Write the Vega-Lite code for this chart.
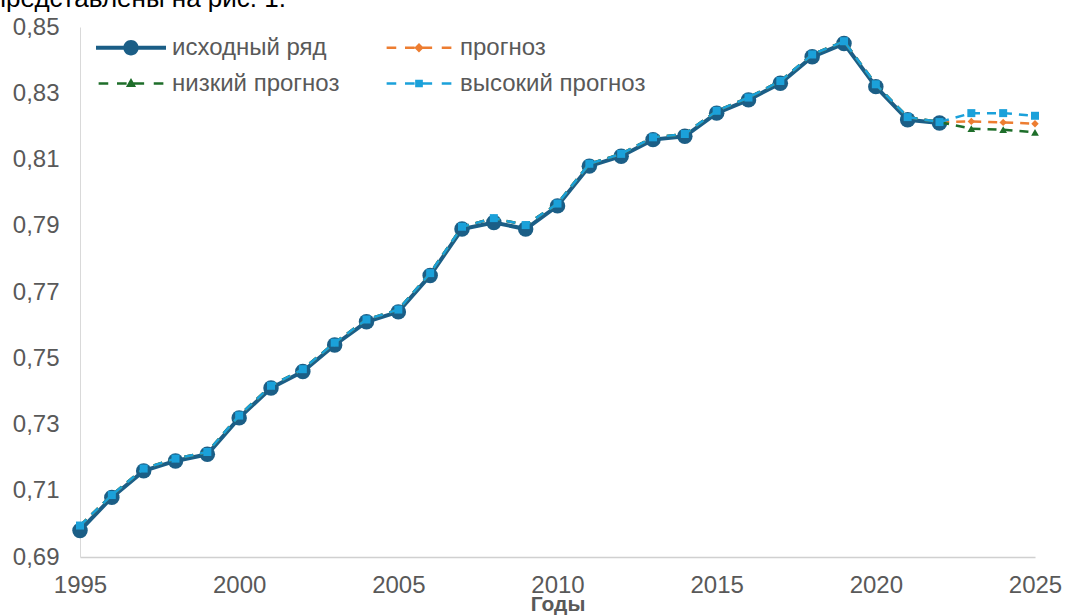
{
  "$schema": "https://vega.github.io/schema/vega-lite/v6.json",
  "width": 955,
  "height": 530,
  "autosize": {"type": "none"},
  "padding": {"left": 80, "top": 27, "right": 31, "bottom": 58},
  "background": "white",
  "title": {
    "text": "представлены на рис. 1.",
    "anchor": "start",
    "frame": "group",
    "dx": -88,
    "dy": 18,
    "offset": 0,
    "baseline": "alphabetic",
    "fontSize": 26,
    "fontWeight": "normal",
    "color": "#000000",
    "font": "Liberation Sans"
  },
  "config": {
    "view": {"stroke": null},
    "font": "Liberation Sans"
  },
  "datasets": {
    "rows": [
      {"series": "исходный ряд", "year": 1995, "value": 0.698},
      {"series": "исходный ряд", "year": 1996, "value": 0.708},
      {"series": "исходный ряд", "year": 1997, "value": 0.716},
      {"series": "исходный ряд", "year": 1998, "value": 0.719},
      {"series": "исходный ряд", "year": 1999, "value": 0.721},
      {"series": "исходный ряд", "year": 2000, "value": 0.732},
      {"series": "исходный ряд", "year": 2001, "value": 0.741},
      {"series": "исходный ряд", "year": 2002, "value": 0.746},
      {"series": "исходный ряд", "year": 2003, "value": 0.754},
      {"series": "исходный ряд", "year": 2004, "value": 0.761},
      {"series": "исходный ряд", "year": 2005, "value": 0.764},
      {"series": "исходный ряд", "year": 2006, "value": 0.775},
      {"series": "исходный ряд", "year": 2007, "value": 0.789},
      {"series": "исходный ряд", "year": 2008, "value": 0.791},
      {"series": "исходный ряд", "year": 2009, "value": 0.789},
      {"series": "исходный ряд", "year": 2010, "value": 0.796},
      {"series": "исходный ряд", "year": 2011, "value": 0.808},
      {"series": "исходный ряд", "year": 2012, "value": 0.811},
      {"series": "исходный ряд", "year": 2013, "value": 0.816},
      {"series": "исходный ряд", "year": 2014, "value": 0.817},
      {"series": "исходный ряд", "year": 2015, "value": 0.824},
      {"series": "исходный ряд", "year": 2016, "value": 0.828},
      {"series": "исходный ряд", "year": 2017, "value": 0.833},
      {"series": "исходный ряд", "year": 2018, "value": 0.841},
      {"series": "исходный ряд", "year": 2019, "value": 0.845},
      {"series": "исходный ряд", "year": 2020, "value": 0.832},
      {"series": "исходный ряд", "year": 2021, "value": 0.822},
      {"series": "исходный ряд", "year": 2022, "value": 0.821},

      {"series": "прогноз", "year": 1995, "value": 0.6995},
      {"series": "прогноз", "year": 1996, "value": 0.7087},
      {"series": "прогноз", "year": 1997, "value": 0.7167},
      {"series": "прогноз", "year": 1998, "value": 0.7197},
      {"series": "прогноз", "year": 1999, "value": 0.7217},
      {"series": "прогноз", "year": 2000, "value": 0.7327},
      {"series": "прогноз", "year": 2001, "value": 0.7417},
      {"series": "прогноз", "year": 2002, "value": 0.7467},
      {"series": "прогноз", "year": 2003, "value": 0.7547},
      {"series": "прогноз", "year": 2004, "value": 0.7617},
      {"series": "прогноз", "year": 2005, "value": 0.7647},
      {"series": "прогноз", "year": 2006, "value": 0.7757},
      {"series": "прогноз", "year": 2007, "value": 0.7897},
      {"series": "прогноз", "year": 2008, "value": 0.7923},
      {"series": "прогноз", "year": 2009, "value": 0.7902},
      {"series": "прогноз", "year": 2010, "value": 0.7967},
      {"series": "прогноз", "year": 2011, "value": 0.8087},
      {"series": "прогноз", "year": 2012, "value": 0.8117},
      {"series": "прогноз", "year": 2013, "value": 0.8167},
      {"series": "прогноз", "year": 2014, "value": 0.8177},
      {"series": "прогноз", "year": 2015, "value": 0.8247},
      {"series": "прогноз", "year": 2016, "value": 0.8287},
      {"series": "прогноз", "year": 2017, "value": 0.8337},
      {"series": "прогноз", "year": 2018, "value": 0.8417},
      {"series": "прогноз", "year": 2019, "value": 0.8457},
      {"series": "прогноз", "year": 2020, "value": 0.8327},
      {"series": "прогноз", "year": 2021, "value": 0.8228},
      {"series": "прогноз", "year": 2022, "value": 0.8213},
      {"series": "прогноз", "year": 2023, "value": 0.8215},
      {"series": "прогноз", "year": 2024, "value": 0.8212},
      {"series": "прогноз", "year": 2025, "value": 0.8208},

      {"series": "низкий прогноз", "year": 1995, "value": 0.6995},
      {"series": "низкий прогноз", "year": 1996, "value": 0.7087},
      {"series": "низкий прогноз", "year": 1997, "value": 0.7167},
      {"series": "низкий прогноз", "year": 1998, "value": 0.7197},
      {"series": "низкий прогноз", "year": 1999, "value": 0.7217},
      {"series": "низкий прогноз", "year": 2000, "value": 0.7327},
      {"series": "низкий прогноз", "year": 2001, "value": 0.7417},
      {"series": "низкий прогноз", "year": 2002, "value": 0.7467},
      {"series": "низкий прогноз", "year": 2003, "value": 0.7547},
      {"series": "низкий прогноз", "year": 2004, "value": 0.7617},
      {"series": "низкий прогноз", "year": 2005, "value": 0.7647},
      {"series": "низкий прогноз", "year": 2006, "value": 0.7757},
      {"series": "низкий прогноз", "year": 2007, "value": 0.7897},
      {"series": "низкий прогноз", "year": 2008, "value": 0.7923},
      {"series": "низкий прогноз", "year": 2009, "value": 0.7902},
      {"series": "низкий прогноз", "year": 2010, "value": 0.7967},
      {"series": "низкий прогноз", "year": 2011, "value": 0.8087},
      {"series": "низкий прогноз", "year": 2012, "value": 0.8117},
      {"series": "низкий прогноз", "year": 2013, "value": 0.8167},
      {"series": "низкий прогноз", "year": 2014, "value": 0.8177},
      {"series": "низкий прогноз", "year": 2015, "value": 0.8247},
      {"series": "низкий прогноз", "year": 2016, "value": 0.8287},
      {"series": "низкий прогноз", "year": 2017, "value": 0.8337},
      {"series": "низкий прогноз", "year": 2018, "value": 0.8417},
      {"series": "низкий прогноз", "year": 2019, "value": 0.8457},
      {"series": "низкий прогноз", "year": 2020, "value": 0.8327},
      {"series": "низкий прогноз", "year": 2021, "value": 0.8228},
      {"series": "низкий прогноз", "year": 2022, "value": 0.8213},
      {"series": "низкий прогноз", "year": 2023, "value": 0.8193},
      {"series": "низкий прогноз", "year": 2024, "value": 0.819},
      {"series": "низкий прогноз", "year": 2025, "value": 0.8182},

      {"series": "высокий прогноз", "year": 1995, "value": 0.6995},
      {"series": "высокий прогноз", "year": 1996, "value": 0.7087},
      {"series": "высокий прогноз", "year": 1997, "value": 0.7167},
      {"series": "высокий прогноз", "year": 1998, "value": 0.7197},
      {"series": "высокий прогноз", "year": 1999, "value": 0.7217},
      {"series": "высокий прогноз", "year": 2000, "value": 0.7327},
      {"series": "высокий прогноз", "year": 2001, "value": 0.7417},
      {"series": "высокий прогноз", "year": 2002, "value": 0.7467},
      {"series": "высокий прогноз", "year": 2003, "value": 0.7547},
      {"series": "высокий прогноз", "year": 2004, "value": 0.7617},
      {"series": "высокий прогноз", "year": 2005, "value": 0.7647},
      {"series": "высокий прогноз", "year": 2006, "value": 0.7757},
      {"series": "высокий прогноз", "year": 2007, "value": 0.7897},
      {"series": "высокий прогноз", "year": 2008, "value": 0.7923},
      {"series": "высокий прогноз", "year": 2009, "value": 0.7902},
      {"series": "высокий прогноз", "year": 2010, "value": 0.7967},
      {"series": "высокий прогноз", "year": 2011, "value": 0.8087},
      {"series": "высокий прогноз", "year": 2012, "value": 0.8117},
      {"series": "высокий прогноз", "year": 2013, "value": 0.8167},
      {"series": "высокий прогноз", "year": 2014, "value": 0.8177},
      {"series": "высокий прогноз", "year": 2015, "value": 0.8247},
      {"series": "высокий прогноз", "year": 2016, "value": 0.8287},
      {"series": "высокий прогноз", "year": 2017, "value": 0.8337},
      {"series": "высокий прогноз", "year": 2018, "value": 0.8417},
      {"series": "высокий прогноз", "year": 2019, "value": 0.8457},
      {"series": "высокий прогноз", "year": 2020, "value": 0.8327},
      {"series": "высокий прогноз", "year": 2021, "value": 0.8228},
      {"series": "высокий прогноз", "year": 2022, "value": 0.8213},
      {"series": "высокий прогноз", "year": 2023, "value": 0.824},
      {"series": "высокий прогноз", "year": 2024, "value": 0.824},
      {"series": "высокий прогноз", "year": 2025, "value": 0.8232}
    ]
  },
  "data": {"name": "rows"},
  "encoding": {
    "x": {
      "field": "year",
      "type": "quantitative",
      "scale": {"domain": [1995, 2025], "nice": false, "zero": false},
      "axis": {
        "values": [1995, 2000, 2005, 2010, 2015, 2020, 2025],
        "format": "d",
        "title": "Годы",
        "titleFontSize": 21,
        "titleFontWeight": "bold",
        "titleColor": "#595959",
        "titleFont": "Liberation Sans",
        "titleBaseline": "alphabetic",
        "titleY": 53,
        "labelFontSize": 24,
        "labelColor": "#595959",
        "labelFont": "Liberation Sans",
        "labelBaseline": "alphabetic",
        "labelPadding": 35,
        "labelFlush": false,
        "labelOverlap": false,
        "ticks": false,
        "grid": false,
        "domainColor": "#D0D0D0",
        "domainWidth": 1.5
      }
    },
    "y": {
      "field": "value",
      "type": "quantitative",
      "scale": {"domain": [0.69, 0.85], "nice": false, "zero": false},
      "axis": {
        "values": [0.69, 0.71, 0.73, 0.75, 0.77, 0.79, 0.81, 0.83, 0.85],
        "labelExpr": "replace(format(datum.value, '.2f'), '.', ',')",
        "title": null,
        "labelFontSize": 24,
        "labelColor": "#595959",
        "labelFont": "Liberation Sans",
        "labelPadding": 21,
        "labelFlush": false,
        "labelOverlap": false,
        "ticks": false,
        "grid": false,
        "domainColor": "#D9D9D9",
        "domainWidth": 1
      }
    },
    "color": {
      "field": "series",
      "type": "nominal",
      "scale": {
        "domain": ["исходный ряд", "прогноз", "низкий прогноз", "высокий прогноз"],
        "range": ["#1B5E86", "#ED7D31", "#1E6E2A", "#1BA1DA"]
      },
      "legend": {
        "title": null,
        "orient": "none",
        "direction": "horizontal",
        "legendX": 16,
        "legendY": 3,
        "columns": 2,
        "columnPadding": 44,
        "rowPadding": 6,
        "symbolSize": 1225,
        "symbolOffset": 17.5,
        "symbolStrokeWidth": 0,
        "symbolOpacity": 1,
        "labelOffset": 23.5,
        "labelFontSize": 24,
        "labelColor": "#595959",
        "labelFont": "Liberation Sans",
        "labelLimit": 400,
        "encode": {
          "symbols": {
            "update": {
              "shape": {"signal": "datum.value === 'исходный ряд' ? 'M-2,-0.11L2,-0.11L2,0.11L-2,0.11Z M-0.44,0A0.44,0.44,0,1,1,0.44,0A0.44,0.44,0,1,1,-0.44,0Z' : datum.value === 'прогноз' ? 'M-1.85,-0.075H-1.3V0.075H-1.85Z M-0.8,-0.075H-0.25V0.075H-0.8Z M-0.15,-0.075H0.75V0.075H-0.15Z M1.3,-0.075H1.85V0.075H1.3Z M0,-0.27L0.27,0L0,0.27L-0.27,0Z' : datum.value === 'низкий прогноз' ? 'M-1.85,-0.075H-1.3V0.075H-1.85Z M-0.8,-0.075H-0.25V0.075H-0.8Z M-0.15,-0.075H0.75V0.075H-0.15Z M1.3,-0.075H1.85V0.075H1.3Z M0,-0.32L0.29,0.2L-0.29,0.2Z' : 'M-1.85,-0.075H-1.3V0.075H-1.85Z M-0.8,-0.075H-0.25V0.075H-0.8Z M-0.15,-0.075H0.75V0.075H-0.15Z M1.3,-0.075H1.85V0.075H1.3Z M-0.22,-0.22H0.22V0.22H-0.22Z'"},
              "fill": {"signal": "scale('color', datum.value)"},
              "fillOpacity": {"value": 1},
              "strokeWidth": {"value": 0},
              "opacity": {"value": 1}
            }
          }
        }
      }
    }
  },
  "layer": [
    {
      "transform": [{"filter": "datum.series === 'исходный ряд'"}],
      "mark": {"type": "line", "strokeWidth": 4, "point": {"filled": true, "shape": "circle", "size": 240, "opacity": 1}}
    },
    {
      "transform": [{"filter": "datum.series === 'прогноз'"}],
      "mark": {"type": "line", "strokeWidth": 2.5, "strokeDash": [9, 7], "point": {"filled": true, "shape": "diamond", "size": 55, "opacity": 1}}
    },
    {
      "transform": [{"filter": "datum.series === 'низкий прогноз'"}],
      "mark": {"type": "line", "strokeWidth": 2.5, "strokeDash": [9, 7], "point": {"filled": true, "shape": "triangle-up", "size": 60, "opacity": 1}}
    },
    {
      "transform": [{"filter": "datum.series === 'высокий прогноз'"}],
      "mark": {"type": "line", "strokeWidth": 2.5, "strokeDash": [9, 7], "point": {"filled": true, "shape": "square", "size": 64, "opacity": 1}}
    }
  ]
}
